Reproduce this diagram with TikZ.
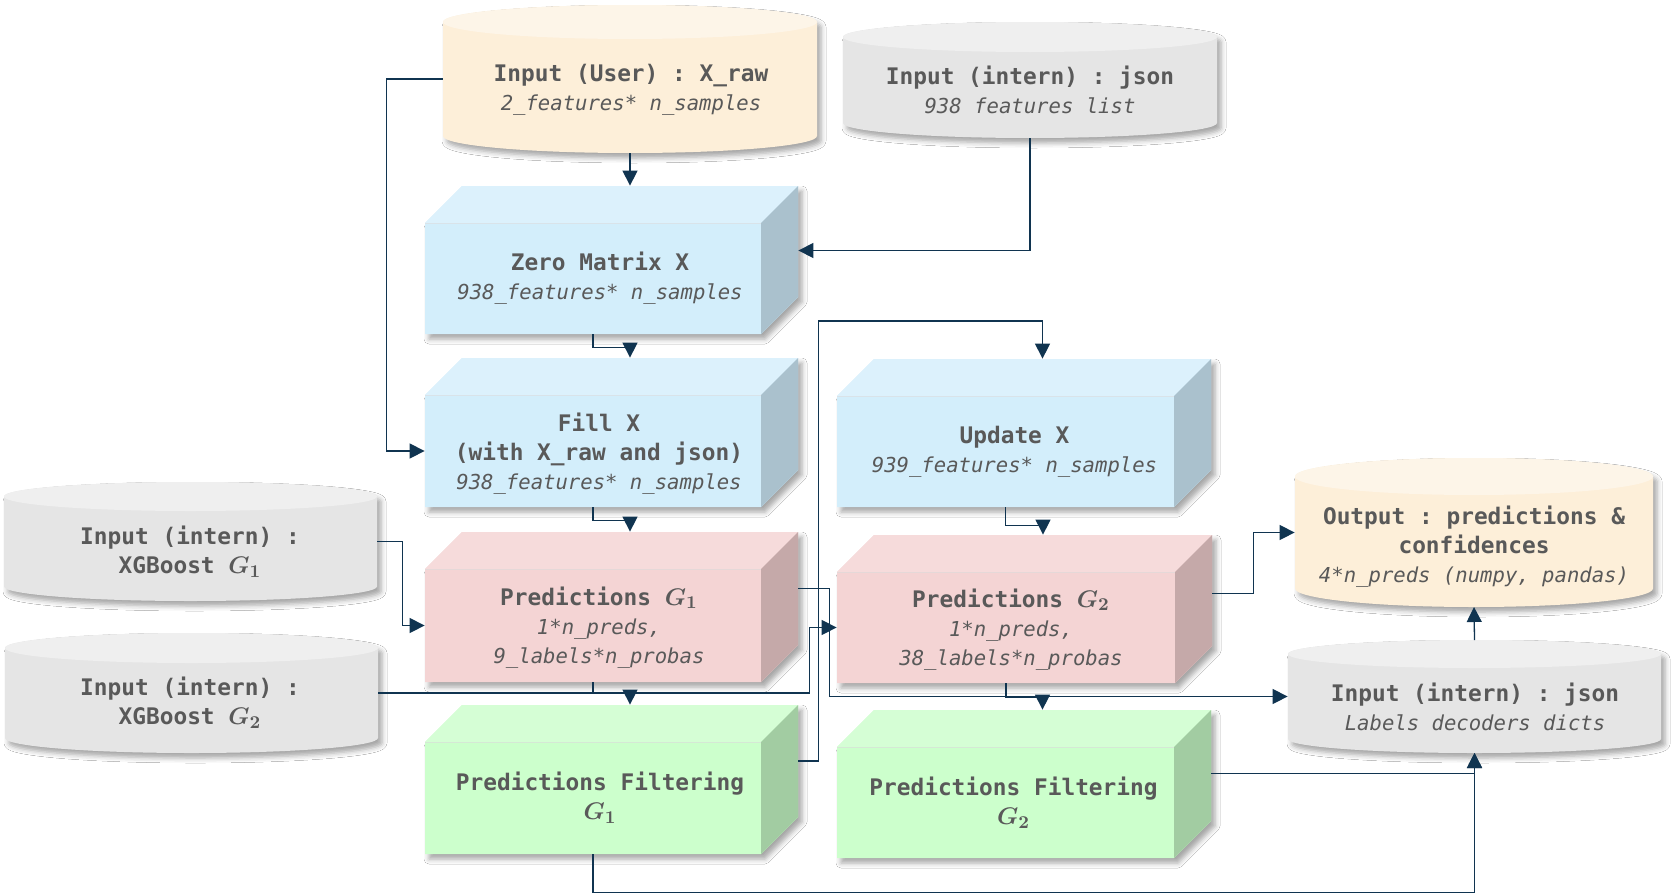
\documentclass[tikz,border=0pt]{standalone}
\usepackage{fontspec}
\setmonofont{DejaVu Sans Mono}
\usetikzlibrary{arrows.meta,shadows.blur,fit}
\definecolor{txtgray}{RGB}{89,89,89}
\definecolor{linecol}{RGB}{16,52,80}
\definecolor{bluefront}{RGB}{211,238,251}
\definecolor{bluetop}{RGB}{220,241,252}
\definecolor{blueside}{RGB}{170,193,205}
\definecolor{pinkfront}{RGB}{244,212,212}
\definecolor{pinktop}{RGB}{246,219,219}
\definecolor{pinkside}{RGB}{197,169,169}
\definecolor{greenfront}{RGB}{204,255,204}
\definecolor{greentop}{RGB}{213,254,213}
\definecolor{greenside}{RGB}{162,204,162}
\definecolor{yelbody}{RGB}{253,239,217}
\definecolor{yeltop}{RGB}{253,245,232}
\definecolor{graybody}{RGB}{229,229,229}
\definecolor{graytop}{RGB}{239,239,239}
\newcommand\itl[1]{{\mdseries\itshape\fontsize{10.3}{14.5}\selectfont #1}}
\newcommand\gm[1]{{\fontsize{12.8}{14.5}\selectfont\boldmath$G_{#1}$}}
\tikzset{
  lbl/.style={text=txtgray, align=center, inner sep=0pt, font=\ttfamily\bfseries\fontsize{11.4}{14.5}\selectfont},
  conn/.style={draw=linecol, line width=0.65pt, -{Triangle[length=7.5pt,width=7.5pt]}},
  shd/.style={blur shadow={shadow xshift=2pt,shadow yshift=-2.5pt,shadow blur radius=2.5pt,shadow opacity=35}}
}
\newcommand\mkcube[6]{%
  \fill[#6front, shd] (#2,#5) -- (#2,#3) -- ({#2+37},{#3-37}) -- ({#4+37},{#3-37}) -- ({#4+37},{#5-37}) -- (#4,#5) -- cycle;
  \fill[#6front] (#2,#3) rectangle (#4,#5);
  \fill[#6top] (#2,#3) -- ({#2+37},{#3-37}) -- ({#4+37},{#3-37}) -- (#4,#3) -- cycle;
  \fill[#6side] (#4,#3) -- ({#4+37},{#3-37}) -- ({#4+37},{#5-37}) -- (#4,#5) -- cycle;
  \draw[#6side!45, line width=0.4pt] (#2,#3) -- (#4,#3);
  \node[inner sep=0pt, fit={(#2,#3) (#4,#5)}] (#1) {};
}
\newcommand\mkcyl[7]{%
  \fill[#7body, shd] ({#2-#5},#3) -- ({#2-#5},#4) arc[start angle=180,end angle=0,x radius=#5,y radius=#6] -- ({#2+#5},#3) arc[start angle=0,end angle=-180,x radius=#5,y radius=#6] -- cycle;
  \fill[#7top] (#2,#3) ellipse[x radius=#5,y radius=#6];
  \node[inner sep=0pt, fit={({#2-#5},#3) ({#2+#5},#4)}] (#1) {};
  \coordinate (#1-top) at (#2,{#3-#6});
  \coordinate (#1-bot) at (#2,{#4+#6});
}
\begin{document}
\begin{tikzpicture}[x=0.5pt,y=-0.5pt]
\useasboundingbox (0,0) rectangle (1674,894);
\fill[white] (0,0) rectangle (1674,894);
% cylinders
\mkcyl{user}{630}{22}{136}{187}{17}{yel}
\mkcyl{json}{1030}{37}{123}{187}{15}{gray}
\mkcyl{xgb1}{190.5}{496.5}{586.5}{186.5}{14.5}{gray}
\mkcyl{xgb2}{191.5}{648}{738}{186.5}{15}{gray}
\mkcyl{output}{1474}{476.5}{588.5}{179}{18.5}{yel}
\mkcyl{labels}{1474.5}{654}{739}{186.5}{14}{gray}
% cubes
\mkcube{zero}{425}{223}{761}{334}{blue}
\mkcube{fill}{425}{395}{761}{507}{blue}
\mkcube{pred1}{425}{569}{761}{682}{pink}
\mkcube{filt1}{425}{742}{761}{854}{green}
\mkcube{update}{837}{396}{1174}{507}{blue}
\mkcube{pred2}{837}{572}{1175}{683}{pink}
\mkcube{filt2}{837}{747}{1174}{858}{green}
% texts
\node[lbl] (user-t) at (631,90) {Input (User) : X\_raw\\\itl{2\_features* n\_samples}};
\node[lbl] (json-t) at (1030,89.5) {Input (intern) : json\\\itl{938 features list}};
\node[lbl] (xgb1-t) at (190,551.5) {Input (intern) :\\XGBoost \gm{1}};
\node[lbl] (xgb2-t) at (190,702.5) {Input (intern) :\\XGBoost \gm{2}};
\node[lbl] (output-t) at (1474,546.5) {Output : predictions \&\\confidences\\\itl{4*n\_preds (numpy, pandas)}};
\node[lbl] (labels-t) at (1475,707) {Input (intern) : json\\\itl{Labels decoders dicts}};
\node[lbl] (zero-t) at ([xshift=3.5pt]zero.center) {Zero Matrix X\\\itl{938\_features* n\_samples}};
\node[lbl] (fill-t) at ([xshift=3pt,yshift=-1.5pt]fill.center) {Fill X\\(with X\_raw and json)\\\itl{938\_features* n\_samples}};
\node[lbl] (pred1-t) at ([xshift=3pt,yshift=-1pt]pred1.center) {Predictions \gm{1}\\\itl{1*n\_preds,}\\\itl{9\_labels*n\_probas}};
\node[lbl] (filt1-t) at ([xshift=3.5pt]filt1.center) {Predictions Filtering\\\gm{1}};
\node[lbl] (update-t) at ([xshift=4.5pt]update.center) {Update X\\\itl{939\_features* n\_samples}};
\node[lbl] (pred2-t) at ([xshift=2.5pt,yshift=-1pt]pred2.center) {Predictions \gm{2}\\\itl{1*n\_preds,}\\\itl{38\_labels*n\_probas}};
\node[lbl] (filt2-t) at ([xshift=4pt]filt2.center) {Predictions Filtering\\\gm{2}};
% connectors
\draw[conn] (user-bot) -- ([shift={(37,-37)}]zero.north);
\draw[conn] (user.west) -- ++(-56,0) |- (fill.west);
\draw[conn] (json-bot) |- ([shift={(37,-28)}]zero.east);
\draw[conn] (zero.south) -- ++(0,13) -| ([shift={(37,-37)}]fill.north);
\draw[conn] (fill.south) -- ++(0,13) -| ([shift={(37,-37)}]pred1.north);
\draw[conn] (xgb1.east) -- ++(25,0) |- (pred1.west);
\draw[conn] (pred1.south) -- ++(0,11) -| ([shift={(37,-37)}]filt1.north);
\draw[conn] (xgb2.east) -- ++(431,0) |- (pred2.west);
\draw[conn] ([shift={(37,-37)}]pred1.east) -- ++(31,0) |- (labels.west);
\draw[conn] ([shift={(37,-37)}]filt1.east) -- ++(20,0) -- ++(0,-440) -| ([shift={(37,-37)}]update.north);
\draw[conn] (update.south) -- ++(0,18) -| ([shift={(37,-37)}]pred2.north);
\draw[conn] (pred2.south) -- ++(0,14) -| ([shift={(37,-37)}]filt2.north);
\draw[conn] ([shift={(37,-34)}]pred2.east) -- ++(41,0) |- (output.west);
\draw[conn] (labels-top) -- (output-bot);
\draw[conn] (filt1.south) -- ++(0,38) -| (labels-bot);
\draw[conn] ([shift={(37,-29)}]filt2.east) -| (labels-bot);
\end{tikzpicture}
\end{document}
